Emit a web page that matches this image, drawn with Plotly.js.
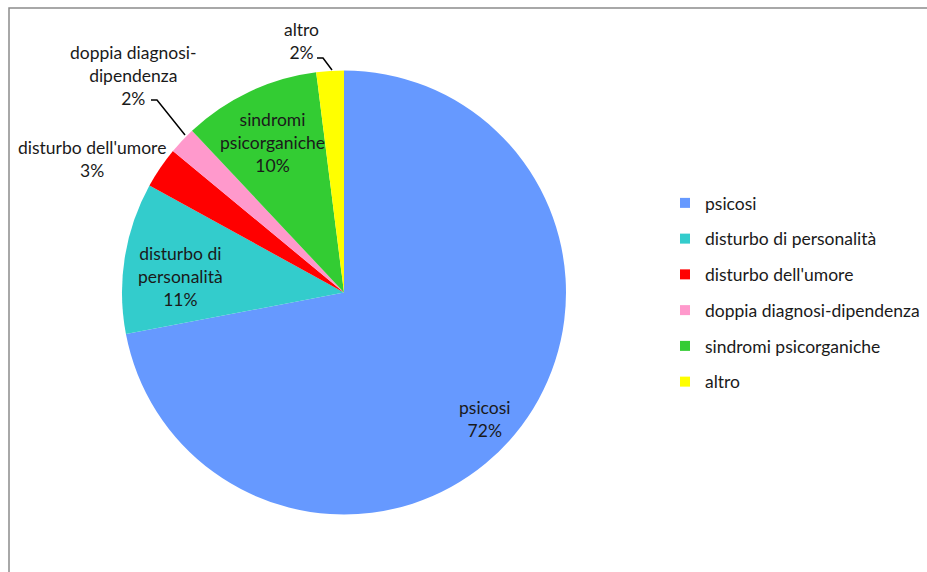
<!DOCTYPE html>
<html>
<head>
<meta charset="utf-8">
<script src="https://cdn.plot.ly/plotly-3.0.1.min.js"></script>
<style>html,body{margin:0;padding:0;background:#fff;}#chart{width:927px;height:572px;}</style>
</head>
<body>
<div id="chart"></div>
<script>
// ---- data ----
var categories = ["psicosi", "disturbo di personalità", "disturbo dell'umore", "doppia diagnosi-dipendenza", "sindromi psicorganiche", "altro"];
var percentValues = [72, 11, 3, 2, 10, 2];
var sliceLabelText = ["psicosi", "disturbo di<br>personalità", "disturbo dell'umore", "doppia diagnosi-<br>dipendenza", "sindromi<br>psicorganiche", "altro"];
var sliceColors = ["#6699FF", "#33CCCC", "#FF0000", "#FF99CC", "#33CC33", "#FFFF00"];

// ---- layout helpers (positions only) ----
var W = 927, H = 572;
function px(x) { return x / W; }
function py(y) { return 1 - y / H; }
var labelPos = [[485, 419], [180, 276], [92, 159], [133, 75], [272, 142], [301, 41]];
var CX = 344, CY = 292.5, R = 222;
var FONT = "Lato, 'Open Sans', sans-serif";

var traces = [{
  type: "pie",
  labels: categories,
  values: percentValues,
  sort: false,
  direction: "clockwise",
  rotation: 0,
  marker: { colors: sliceColors, line: { width: 0 } },
  textinfo: "none",
  hoverinfo: "label+percent",
  showlegend: false,
  domain: { x: [px(CX - R), px(CX + R)], y: [py(CY + R), py(CY - R)] }
}];
categories.forEach(function (c, i) {
  traces.push({
    type: "scatter", mode: "markers", x: [null], y: [null],
    name: c, legendgroup: "g" + i,
    marker: { symbol: "square", size: 10, color: sliceColors[i] },
    hoverinfo: "skip", showlegend: true
  });
});

var annotations = categories.map(function (c, i) {
  return {
    xref: "paper", yref: "paper",
    x: px(labelPos[i][0]), y: py(labelPos[i][1]),
    xanchor: "center", yanchor: "middle",
    text: sliceLabelText[i] + "<br>" + percentValues[i] + "%",
    showarrow: false, align: "center",
    font: { family: FONT, size: 17.5, color: "#1a1a1a" }
  };
});

function pathPx(pts) {
  return pts.map(function (p, k) { return (k ? "L" : "M") + px(p[0]) + "," + py(p[1]); }).join(" ");
}
var shapes = [
  { type: "path", xref: "paper", yref: "paper", path: pathPx([[317, 58], [323, 58], [332, 70]]), line: { color: "#000", width: 1.5 } },
  { type: "path", xref: "paper", yref: "paper", path: pathPx([[151, 100], [157, 100], [185, 135]]), line: { color: "#000", width: 1.5 } },
  { type: "rect", xref: "paper", yref: "paper", x0: px(9), x1: 1.05, y0: -0.05, y1: py(8), line: { color: "#8c8c8c", width: 1.5 } }
];

var layout = {
  width: W, height: H,
  margin: { l: 0, r: 0, t: 0, b: 0 },
  paper_bgcolor: "#fff", plot_bgcolor: "rgba(0,0,0,0)",
  xaxis: { visible: false, fixedrange: true },
  yaxis: { visible: false, fixedrange: true },
  showlegend: true,
  legend: {
    x: px(665), y: py(185), xanchor: "left", yanchor: "top",
    tracegroupgap: 10, itemwidth: 30,
    bgcolor: "rgba(0,0,0,0)", borderwidth: 0,
    font: { family: FONT, size: 17.5, color: "#1a1a1a" }
  },
  annotations: annotations,
  shapes: shapes
};

Plotly.newPlot("chart", traces, layout, { displayModeBar: false, staticPlot: true });
</script>
</body>
</html>
